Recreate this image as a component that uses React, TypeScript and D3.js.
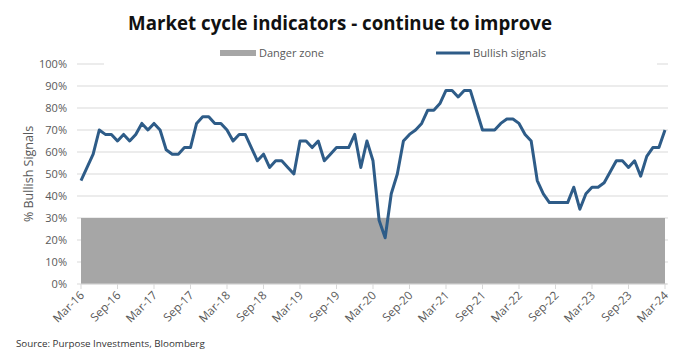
import React from "react";
import * as d3 from "d3";

const bullish: number[] = [
  47, 53, 59, 70, 68, 68, 65, 68, 65, 68, 73, 70, 73, 70, 61, 59, 59, 62, 62, 73,
  76, 76, 73, 73, 70, 65, 68, 68, 62, 56, 59, 53, 56, 56, 53, 50, 65, 65, 62, 65,
  56, 59, 62, 62, 62, 68, 53, 65, 56, 29, 21, 41, 50, 65, 68, 70, 73, 79, 79, 82,
  88, 88, 85, 88, 88, 79, 70, 70, 70, 73, 75, 75, 73, 68, 65, 47, 41, 37, 37, 37,
  37, 44, 34, 41, 44, 44, 46, 51, 56, 56, 53, 56, 49, 58, 62, 62, 70,
];
const dangerLevel = 30;
const startMonth = new Date(2016, 2, 1);
const months: Date[] = d3.timeMonth.range(startMonth, d3.timeMonth.offset(startMonth, bullish.length));
const tickLabels = [
  "Mar-16", "Sep-16", "Mar-17", "Sep-17", "Mar-18", "Sep-18", "Mar-19", "Sep-19", "Mar-20",
  "Sep-20", "Mar-21", "Sep-21", "Mar-22", "Sep-22", "Mar-23", "Sep-23", "Mar-24",
];
const yTicks = [0, 10, 20, 30, 40, 50, 60, 70, 80, 90, 100];

const W = 696;
const H = 356;
const FONT = "'Open Sans', 'DejaVu Sans', sans-serif";

export default function App() {
  const x = d3.scaleLinear().domain([0, months.length - 1]).range([81, 665]);
  const y = d3.scaleLinear().domain([0, 100]).range([284, 64]);
  const line = d3
    .line<number>()
    .x((_, i) => x(i))
    .y((d) => y(d));
  const tickIdx = tickLabels.map((_, i) => i * 6);

  return (
    <svg width={W} height={H} style={{ position: "absolute", left: 0, top: 0, background: "#fff" }} fontFamily={FONT}>
      <rect x={0} y={0} width={W} height={H} fill="#fff" />
      <text x={340} y={30} textAnchor="middle" fontSize={18.7} fontWeight={700} fill="#111">
        Market cycle indicators - continue to improve
      </text>
      {yTicks.map((t) => (
        <g key={t}>
          <line x1={77} x2={668} y1={y(t)} y2={y(t)} stroke="#d9d9d9" strokeWidth={1} />
          <text x={67} y={y(t) + 4} textAnchor="end" fontSize={11} fill="#595959">
            {t}%
          </text>
        </g>
      ))}
      {/* legend background covering top gridline */}
      <rect x={104} y={42} width={553} height={24} fill="#fff" />
      <rect x={220} y={50} width={36} height={6} fill="#a6a6a6" />
      <text x={259} y={57} fontSize={11} fill="#595959">Danger zone</text>
      <line x1={436} x2={470} y1={53} y2={53} stroke="#2e5c88" strokeWidth={3} />
      <text x={473} y={57} fontSize={11.2} fill="#595959">Bullish signals</text>

      <rect x={x(0)} y={y(dangerLevel)} width={x(months.length - 1) - x(0)} height={y(0) - y(dangerLevel)} fill="#a6a6a6" />
      <line x1={x(0)} x2={x(months.length - 1) + 2} y1={y(0)} y2={y(0)} stroke="#d9d9d9" strokeWidth={1} />
      {tickIdx.map((i, k) => (
        <g key={k}>
          <line x1={x(i)} x2={x(i)} y1={y(0)} y2={y(0) + 5} stroke="#d9d9d9" />
          <text
            transform={`translate(${x(i) + 4},${y(0) + 12}) rotate(-45)`}
            textAnchor="end"
            fontSize={11.6}
            fill="#595959"
          >
            {tickLabels[k]}
          </text>
        </g>
      ))}
      <path d={line(bullish) || ""} fill="none" stroke="#2e5c88" strokeWidth={3} strokeLinejoin="round" />
      <text transform={`translate(33,174) rotate(-90)`} textAnchor="middle" fontSize={12.5} fill="#595959">
        % Bullish Signals
      </text>
      <text x={16} y={347} fontSize={9.8} fill="#333">
        Source: Purpose Investments, Bloomberg
      </text>
    </svg>
  );
}
